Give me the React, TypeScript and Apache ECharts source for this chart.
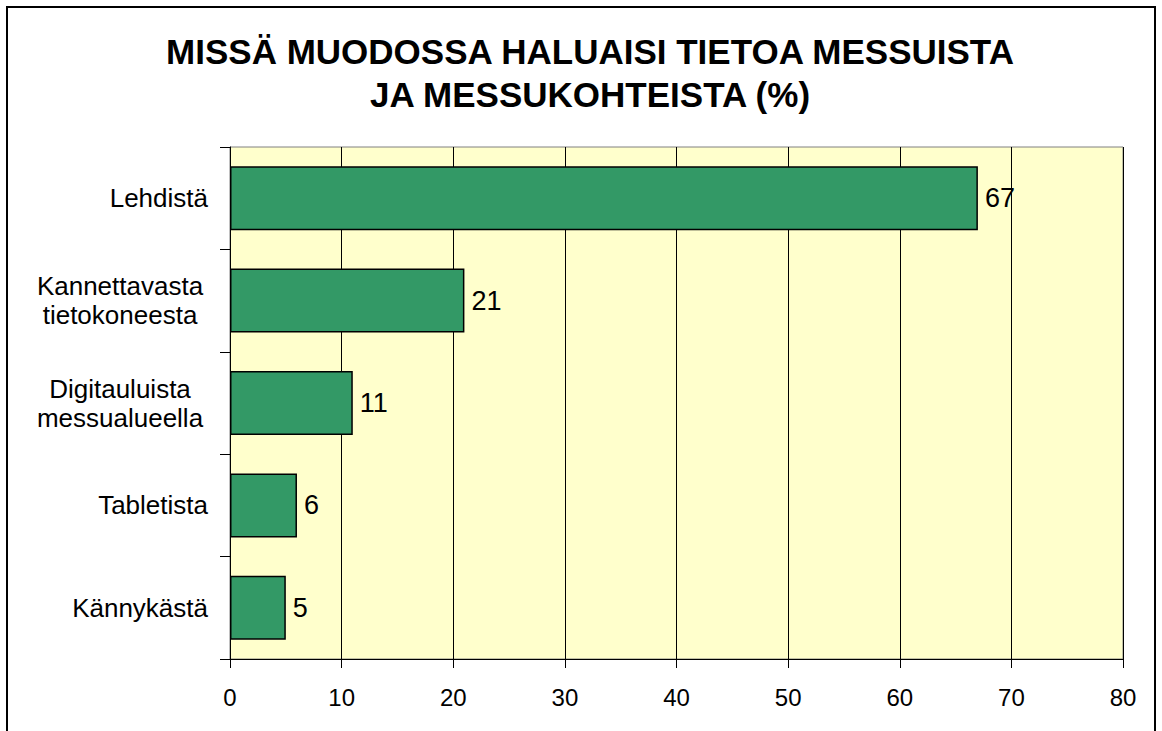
import React, { useEffect, useRef } from "react";
import * as echarts from "echarts";

const categories = [
  "Lehdistä",
  "Kannettavasta\ntietokoneesta",
  "Digitauluista\nmessualueella",
  "Tabletista",
  "Kännykästä",
];
const values = [67, 21, 11, 6, 5];
const titleLines = ["MISSÄ MUODOSSA HALUAISI TIETOA MESSUISTA", "JA MESSUKOHTEISTA (%)"];
const xMin = 0;
const xMax = 80;
const xStep = 10;

const FONT = 'Arial, "Liberation Sans", Helvetica, sans-serif';

export default function App() {
  const ref = useRef<HTMLDivElement>(null);
  useEffect(() => {
    document.body.style.margin = "0";
    const chart = echarts.init(ref.current!, null, { renderer: "svg" });
    chart.setOption({
      animation: false,
      backgroundColor: "#ffffff",
      title: {
        text: titleLines.join("\n"),
        left: 585,
        top: 25,
        textAlign: "center",
        textStyle: {
          fontFamily: FONT,
          fontSize: 35,
          fontWeight: "bold",
          color: "#000",
          lineHeight: 43,
        },
      },
      graphic: [
        {
          type: "rect",
          shape: { x: 7, y: 7, width: 1148, height: 745 },
          style: { fill: "none", stroke: "#000", lineWidth: 2 },
          silent: true,
        },
      ],
      grid: {
        left: 230,
        right: 39,
        top: 147,
        bottom: 72,
        show: true,
        backgroundColor: "#FFFFCC",
        borderColor: "#808080",
        borderWidth: 1,
      },
      xAxis: {
        type: "value",
        min: xMin,
        max: xMax,
        interval: xStep,
        axisLine: { show: true, lineStyle: { color: "#000", width: 1 } },
        axisTick: { show: true, length: 9, lineStyle: { color: "#000" } },
        splitLine: { show: true, lineStyle: { color: "#000", width: 1 } },
        axisLabel: {
          fontFamily: FONT,
          fontSize: 24,
          color: "#000",
          margin: 26,
        },
      },
      yAxis: {
        type: "category",
        data: categories,
        inverse: true,
        axisLine: { show: true, lineStyle: { color: "#000", width: 1 } },
        axisTick: { show: true, length: 10, lineStyle: { color: "#000" } },
        splitLine: { show: false },
        axisLabel: {
          fontFamily: FONT,
          fontSize: 26,
          color: "#000",
          margin: 22,
          lineHeight: 29,
          formatter: (v: string) =>
            v.includes("\n")
              ? v
                  .split("\n")
                  .map((l) => `{c|${l}}`)
                  .join("\n")
              : v,
          rich: {
            c: {
              width: 176,
              align: "center",
              fontFamily: FONT,
              fontSize: 26,
              lineHeight: 29,
              color: "#000",
            },
          },
        },
      },
      series: [
        {
          type: "bar",
          data: values,
          barCategoryGap: "37.5%",
          itemStyle: { color: "#339966", borderColor: "#000", borderWidth: 1.5 },
          label: {
            show: true,
            position: "right",
            distance: 7,
            fontFamily: FONT,
            fontSize: 27,
            color: "#000",
          },
        },
      ],
    });
    return () => chart.dispose();
  }, []);
  return <div ref={ref} style={{ width: 1162, height: 731 }} />;
}
